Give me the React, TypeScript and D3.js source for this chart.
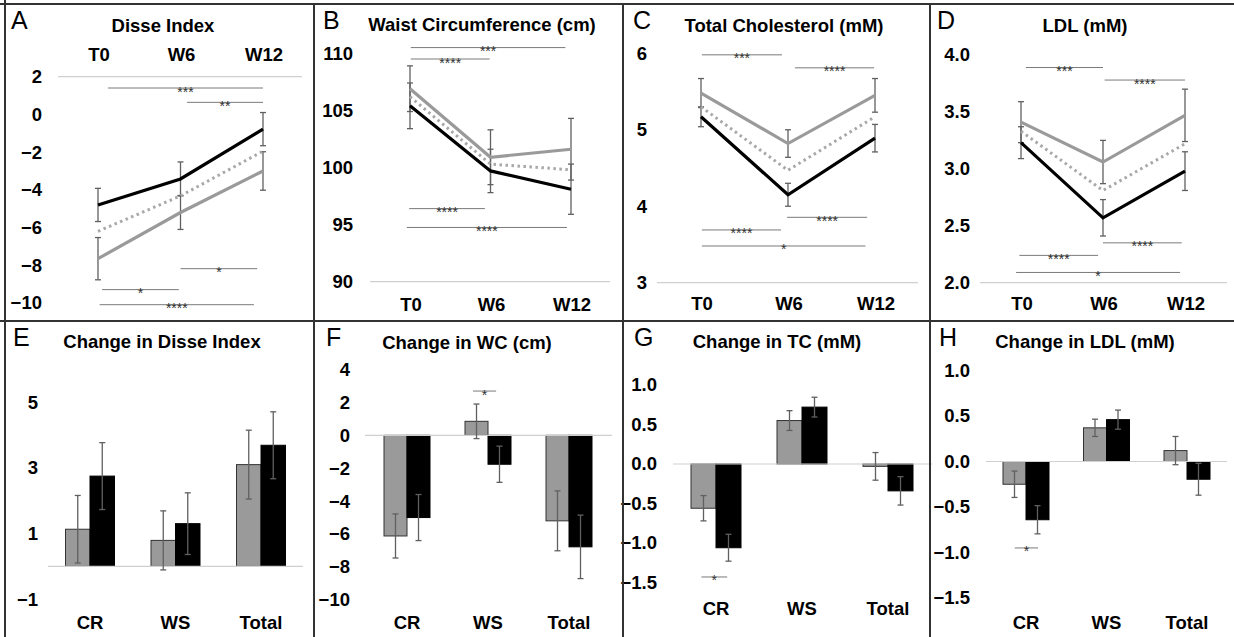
import * as d3 from 'd3'

const W = 1234
const H = 637
const FONT = '"Liberation Sans", Arial, sans-serif'

const timepoints = ['T0', 'W6', 'W12']
const groups = ['CR', 'WS', 'Total']

// A - Disse index
const disseGrey = [-7.65, -5.2, -3.0]
const disseGreyErr = [1.12, 0.9, 1.02]
const disseBlack = [-4.8, -3.42, -0.78]
const disseBlackErr = [0.88, 0.9, 0.88]
const disseAll = [-6.2, -4.32, -1.95]
const disseTicks = [2, 0, -2, -4, -6, -8, -10]
const disseSig = [
  { from: 0.12, to: 2.0, at: 1.4, label: '***' },
  { from: 1.08, to: 2.0, at: 0.64, label: '**' },
  { from: 1.0, to: 1.93, at: -8.18, label: '*' },
  { from: 0.05, to: 0.98, at: -9.29, label: '*' },
  { from: 0.02, to: 1.89, at: -10.09, label: '****' },
]

// B - waist circumference
const wcGrey = [106.9, 100.9, 101.6]
const wcGreyErr = [2.0, 2.4, 2.7]
const wcBlack = [105.4, 99.7, 98.1]
const wcBlackErr = [2.0, 1.9, 2.2]
const wcAll = [106.2, 100.3, 99.8]
const wcTicks = [90, 95, 100, 105, 110]
const wcSig = [
  { from: 0.01, to: 1.93, at: 110.5, label: '***' },
  { from: 0.01, to: 0.99, at: 109.5, label: '****' },
  { from: -0.01, to: 0.93, at: 96.4, label: '****' },
  { from: -0.04, to: 1.95, at: 94.75, label: '****' },
]

// C - total cholesterol
const tcGrey = [5.48, 4.82, 5.45]
const tcGreyErr = [0.19, 0.18, 0.22]
const tcBlack = [5.17, 4.15, 4.89]
const tcBlackErr = [0.13, 0.15, 0.18]
const tcAll = [5.3, 4.47, 5.17]
const tcTicks = [3, 4, 5, 6]
const tcSig = [
  { from: 0.01, to: 0.93, at: 5.98, label: '***' },
  { from: 1.08, to: 1.99, at: 5.81, label: '****' },
  { from: 0.99, to: 1.91, at: 3.855, label: '****' },
  { from: 0.01, to: 0.92, at: 3.69, label: '****' },
  { from: 0.01, to: 1.89, at: 3.48, label: '*' },
]

// D - LDL
const ldlGrey = [3.41, 3.06, 3.47]
const ldlGreyErr = [0.18, 0.19, 0.23]
const ldlBlack = [3.23, 2.57, 2.98]
const ldlBlackErr = [0.14, 0.16, 0.17]
const ldlAll = [3.33, 2.81, 3.22]
const ldlTicks = [2.0, 2.5, 3.0, 3.5, 4.0]
const ldlSig = [
  { from: 0.06, to: 1.0, at: 3.89, label: '***' },
  { from: 1.02, to: 2.0, at: 3.78, label: '****' },
  { from: 1.0, to: 1.96, at: 2.35, label: '****' },
  { from: -0.02, to: 0.94, at: 2.24, label: '****' },
  { from: -0.06, to: 1.94, at: 2.09, label: '*' },
]

// E - change in Disse index
const dDisseGrey = [1.13, 0.79, 3.1]
const dDisseGreyErr = [1.03, 0.9, 1.05]
const dDisseBlack = [2.75, 1.3, 3.69]
const dDisseBlackErr = [1.02, 0.94, 1.02]
const dDisseTicks = [-1, 1, 3, 5]

// F - change in WC
const dWcGrey = [-6.12, 0.85, -5.2]
const dWcGreyErr = [1.34, 1.05, 1.82]
const dWcBlack = [-5.0, -1.76, -6.78]
const dWcBlackErr = [1.4, 1.1, 1.93]
const dWcTicks = [-10, -8, -6, -4, -2, 0, 2, 4]
const dWcSig = [{ from: 0.815, to: 1.1, at: 2.69, label: '*' }]

// G - change in TC
const dTcGrey = [-0.56, 0.55, -0.03]
const dTcGreyErr = [0.16, 0.125, 0.175]
const dTcBlack = [-1.06, 0.72, -0.34]
const dTcBlackErr = [0.17, 0.125, 0.18]
const dTcTicks = [-1.5, -1.0, -0.5, 0.0, 0.5, 1.0]
const dTcSig = [{ from: -0.17, to: 0.13, at: -1.43, label: '*' }]

// H - change in LDL
const dLdlGrey = [-0.25, 0.37, 0.12]
const dLdlGreyErr = [0.145, 0.095, 0.155]
const dLdlBlack = [-0.64, 0.46, -0.195]
const dLdlBlackErr = [0.155, 0.105, 0.175]
const dLdlTicks = [-1.5, -1.0, -0.5, 0.0, 0.5, 1.0]
const dLdlSig = [{ from: -0.14, to: 0.15, at: -0.95, label: '*' }]

const GREY = '#9a9a9a'
const ERR = '#606060'
const SIG = '#7a7a7a'
const BOLD = 18.5

const linePanels = [
  {
    letter: 'A', letterX: 11, letterY: 29, title: 'Disse Index', titleX: 163, titleY: 32,
    grey: disseGrey, greyErr: disseGreyErr, black: disseBlack, blackErr: disseBlackErr, all: disseAll,
    ticks: disseTicks, sig: disseSig, fmt: 'd',
    domain: [-10, 2], yRange: [303, 76.7], xRange: [98, 263], grid: [58, 302], gridAt: 2,
    tickX: 42, catY: 61,
  },
  {
    letter: 'B', letterX: 323, letterY: 29, title: 'Waist Circumference (cm)', titleX: 482, titleY: 31,
    grey: wcGrey, greyErr: wcGreyErr, black: wcBlack, blackErr: wcBlackErr, all: wcAll,
    ticks: wcTicks, sig: wcSig, fmt: 'd',
    domain: [90, 110], yRange: [281.7, 53.3], xRange: [410, 571], grid: [370, 610], gridAt: 90,
    tickX: 353, catY: 311,
  },
  {
    letter: 'C', letterX: 633, letterY: 29, title: 'Total Cholesterol (mM)', titleX: 784, titleY: 32,
    grey: tcGrey, greyErr: tcGreyErr, black: tcBlack, blackErr: tcBlackErr, all: tcAll,
    ticks: tcTicks, sig: tcSig, fmt: 'd',
    domain: [3, 6], yRange: [282.7, 53.3], xRange: [701, 875], grid: [657, 918], gridAt: 3,
    tickX: 647, catY: 310,
  },
  {
    letter: 'D', letterX: 937, letterY: 29, title: 'LDL (mM)', titleX: 1085, titleY: 32,
    grey: ldlGrey, greyErr: ldlGreyErr, black: ldlBlack, blackErr: ldlBlackErr, all: ldlAll,
    ticks: ldlTicks, sig: ldlSig, fmt: '.1f',
    domain: [2, 4], yRange: [282.7, 55], xRange: [1021, 1185], grid: [980, 1227], gridAt: 2,
    tickX: 970, catY: 310,
  },
]

const barPanels = [
  {
    letter: 'E', letterX: 13, letterY: 346, title: 'Change in Disse Index', titleX: 162, titleY: 348,
    grey: dDisseGrey, greyErr: dDisseGreyErr, black: dDisseBlack, blackErr: dDisseBlackErr,
    ticks: dDisseTicks, sig: [], fmt: 'd',
    domain: [-1, 5], yRange: [599.1, 402.3], xRange: [90, 261], barW: 24.5, grid: [48, 303],
    tickX: 38, catY: 629,
  },
  {
    letter: 'F', letterX: 326, letterY: 346, title: 'Change in WC (cm)', titleX: 467, titleY: 349,
    grey: dWcGrey, greyErr: dWcGreyErr, black: dWcBlack, blackErr: dWcBlackErr,
    ticks: dWcTicks, sig: dWcSig, fmt: 'd',
    domain: [-10, 4], yRange: [599.8, 369.5], xRange: [407, 569], barW: 23, grid: [365, 612],
    tickX: 350, catY: 629,
  },
  {
    letter: 'G', letterX: 634, letterY: 346, title: 'Change in TC (mM)', titleX: 777, titleY: 348,
    grey: dTcGrey, greyErr: dTcGreyErr, black: dTcBlack, blackErr: dTcBlackErr,
    ticks: dTcTicks, sig: dTcSig, fmt: '.1f',
    domain: [-1.5, 1.0], yRange: [582.5, 385], xRange: [716, 888], barW: 25, grid: [673, 932],
    tickX: 657, catY: 615,
  },
  {
    letter: 'H', letterX: 939, letterY: 346, title: 'Change in LDL (mM)', titleX: 1085, titleY: 348,
    grey: dLdlGrey, greyErr: dLdlGreyErr, black: dLdlBlack, blackErr: dLdlBlackErr,
    ticks: dLdlTicks, sig: dLdlSig, fmt: '.1f',
    domain: [-1.5, 1.0], yRange: [598, 370.5], xRange: [1026, 1187], barW: 23, grid: [986, 1227],
    tickX: 970, catY: 629,
  },
]

const Header = ({ p }: any) => (
  <g>
    <text x={p.letterX} y={p.letterY} fontSize={25} fontFamily={FONT}>{p.letter}</text>
    <text x={p.titleX} y={p.titleY} fontSize={BOLD} fontWeight="bold" fontFamily={FONT} textAnchor="middle">{p.title}</text>
  </g>
)

const YTicks = ({ p, y }: any) => {
  const f = d3.format(p.fmt)
  return (
    <g fontSize={BOLD} fontWeight="bold" fontFamily={FONT} textAnchor="end">
      {p.ticks.map((t: number) => (
        <text key={t} x={p.tickX} y={y(t)} dy="0.35em">{f(t)}</text>
      ))}
    </g>
  )
}

const SigBars = ({ sig, x, y }: any) => (
  <g>
    {sig.map((s: any, i: number) => (
      <g key={i}>
        <line x1={x(s.from)} x2={x(s.to)} y1={y(s.at)} y2={y(s.at)} stroke={SIG} strokeWidth={1} />
        <text x={(x(s.from) + x(s.to)) / 2} y={y(s.at) + 8.5} fontSize={14} fontFamily={FONT}
          fill="#333" textAnchor="middle">{s.label}</text>
      </g>
    ))}
  </g>
)

const ErrBar = ({ cx, y, v, e }: any) => (
  <g stroke={ERR} strokeWidth={1.3}>
    <line x1={cx} x2={cx} y1={y(v + e)} y2={y(v - e)} />
    <line x1={cx - 3} x2={cx + 3} y1={y(v + e)} y2={y(v + e)} />
    <line x1={cx - 3} x2={cx + 3} y1={y(v - e)} y2={y(v - e)} />
  </g>
)

const LinePanel = ({ p }: any) => {
  const x = d3.scaleLinear().domain([0, 2]).range(p.xRange)
  const y = d3.scaleLinear().domain(p.domain).range(p.yRange)
  const line = d3.line<number>().x((_, i) => x(i)).y(d => y(d))
  return (
    <g>
      <Header p={p} />
      <line x1={p.grid[0]} x2={p.grid[1]} y1={y(p.gridAt)} y2={y(p.gridAt)} stroke="#d0d0d0" strokeWidth={1.2} />
      <YTicks p={p} y={y} />
      <g fontSize={BOLD} fontWeight="bold" fontFamily={FONT} textAnchor="middle">
        {timepoints.map((t, i) => (
          <text key={t} x={x(i) + 1} y={p.catY}>{t}</text>
        ))}
      </g>
      {timepoints.map((t, i) => (
        <g key={t}>
          <ErrBar cx={x(i)} y={y} v={p.grey[i]} e={p.greyErr[i]} />
          <ErrBar cx={x(i)} y={y} v={p.black[i]} e={p.blackErr[i]} />
        </g>
      ))}
      <path d={line(p.grey) || ''} fill="none" stroke={GREY} strokeWidth={3.2} />
      <path d={line(p.all) || ''} fill="none" stroke="#a8a8a8" strokeWidth={3} strokeDasharray="2.5,3.5" />
      <path d={line(p.black) || ''} fill="none" stroke="#000" strokeWidth={3.2} />
      <SigBars sig={p.sig} x={x} y={y} />
    </g>
  )
}

const BarPanel = ({ p }: any) => {
  const x = d3.scaleLinear().domain([0, 2]).range(p.xRange)
  const y = d3.scaleLinear().domain(p.domain).range(p.yRange)
  const bw = p.barW
  return (
    <g>
      <Header p={p} />
      <YTicks p={p} y={y} />
      {groups.map((g, i) => (
        <g key={g}>
          <rect x={x(i) - bw} width={bw} y={Math.min(y(0), y(p.grey[i]))} height={Math.abs(y(p.grey[i]) - y(0))}
            fill={GREY} stroke="#333" strokeWidth={1} />
          <rect x={x(i)} width={bw} y={Math.min(y(0), y(p.black[i]))} height={Math.abs(y(p.black[i]) - y(0))}
            fill="#000" stroke="#000" strokeWidth={1} />
        </g>
      ))}
      <line x1={p.grid[0]} x2={p.grid[1]} y1={y(0)} y2={y(0)} stroke="#d0d0d0" strokeWidth={1.2} />
      {groups.map((g, i) => (
        <g key={g}>
          <ErrBar cx={x(i) - bw / 2} y={y} v={p.grey[i]} e={p.greyErr[i]} />
          <ErrBar cx={x(i) + bw / 2} y={y} v={p.black[i]} e={p.blackErr[i]} />
        </g>
      ))}
      <g fontSize={BOLD} fontWeight="bold" fontFamily={FONT} textAnchor="middle">
        {groups.map((g, i) => (
          <text key={g} x={x(i)} y={p.catY}>{g}</text>
        ))}
      </g>
      <SigBars sig={p.sig} x={x} y={y} />
    </g>
  )
}

export default function App() {
  return (
    <svg width={W} height={H} style={{ position: 'absolute', left: 0, top: 0, background: '#fff' }}>
      {linePanels.map(p => <LinePanel key={p.letter} p={p} />)}
      {barPanels.map(p => <BarPanel key={p.letter} p={p} />)}
      <g stroke="#333" strokeWidth={2}>
        <line x1={0} x2={W} y1={4} y2={4} />
        <line x1={5} x2={5} y1={0} y2={H} />
        <line x1={0} x2={W} y1={321} y2={321} />
        <line x1={314} x2={314} y1={4} y2={H} />
        <line x1={623} x2={623} y1={4} y2={H} />
        <line x1={930} x2={930} y1={4} y2={H} />
      </g>
    </svg>
  )
}
